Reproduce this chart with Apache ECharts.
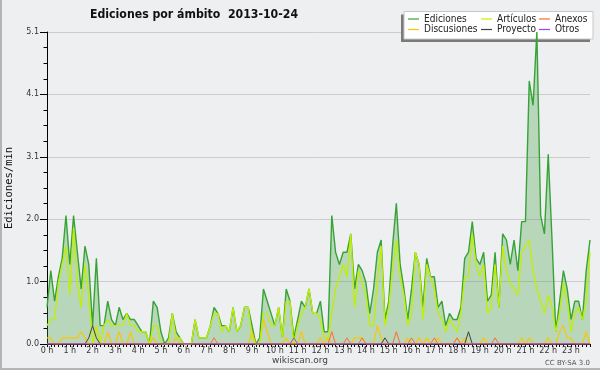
<!DOCTYPE html>
<html><head><meta charset="utf-8">
<script src="https://cdn.jsdelivr.net/npm/echarts@6/dist/echarts.min.js"></script>
<style>html,body{margin:0;padding:0;background:#eeeff1;}#c{width:600px;height:370px;}</style>
</head><body><div id="c"></div>
<script>
const hourLabels = ['0 h','1 h','2 h','3 h','4 h','5 h','6 h','7 h','8 h','9 h','10 h','11 h','12 h','13 h','14 h','15 h','16 h','17 h','18 h','19 h','20 h','21 h','22 h','23 h'];
const yTickLabels = ['0.0','1.0','2.0','3.1','4.1','5.1'];
const ediciones = [
0.6,1.2,0.7,1.1,1.4,2.1,1.3,2.1,1.5,0.9,
1.6,1.3,0.3,1.4,0.3,0.3,0.7,0.4,0.3,0.6,
0.4,0.5,0.4,0.4,0.3,0.2,0.2,0.0,0.7,0.6,
0.2,0.0,0.1,0.5,0.2,0.1,0.0,0.0,0.0,0.4,
0.1,0.1,0.1,0.3,0.6,0.5,0.3,0.3,0.2,0.6,
0.2,0.3,0.6,0.6,0.3,0.0,0.1,0.9,0.7,0.5,
0.3,0.6,0.1,0.9,0.7,0.1,0.4,0.7,0.6,0.9,
0.5,0.5,0.7,0.2,0.2,2.1,1.5,1.3,1.5,1.5,
1.8,0.9,1.3,1.2,1.0,0.5,0.9,1.5,1.7,0.4,
0.7,1.6,2.3,1.3,0.9,0.4,0.9,1.5,1.3,0.6,
1.4,1.1,1.1,0.6,0.7,0.3,0.5,0.4,0.4,0.6,
1.4,1.5,2.0,1.4,1.3,1.5,0.7,0.8,1.5,0.6,
1.8,1.7,1.3,1.7,1.2,2.0,2.0,4.3,3.9,5.1,
2.1,1.8,3.1,1.7,0.2,0.7,1.2,0.9,0.4,0.7,
0.7,0.4,1.2,1.7];
const articulos = [
0.3,0.4,0.4,1.0,1.3,1.6,0.8,1.9,1.0,0.6,
1.3,0.8,0.0,0.3,0.0,0.3,0.4,0.3,0.3,0.3,
0.3,0.5,0.3,0.3,0.2,0.2,0.2,0.0,0.3,0.3,
0.0,0.0,0.0,0.5,0.1,0.1,0.0,0.0,0.0,0.4,
0.1,0.1,0.1,0.3,0.5,0.5,0.2,0.3,0.2,0.6,
0.2,0.3,0.6,0.6,0.1,0.0,0.0,0.5,0.5,0.3,
0.3,0.6,0.1,0.7,0.7,0.0,0.3,0.5,0.6,0.9,
0.5,0.5,0.4,0.1,0.1,0.5,0.9,1.1,1.3,1.1,
1.8,0.6,1.2,1.0,0.8,0.3,0.3,1.0,1.6,0.3,
0.6,1.2,1.7,1.1,0.8,0.3,0.5,1.5,1.3,0.4,
1.3,1.1,0.9,0.5,0.4,0.2,0.4,0.3,0.2,0.5,
1.1,1.1,1.8,1.3,1.1,1.3,0.5,0.6,1.3,0.6,
1.6,1.2,1.0,0.9,0.8,1.5,1.6,1.7,1.2,0.9,
0.7,0.5,0.8,0.6,0.2,0.5,1.0,0.7,0.2,0.5,
0.6,0.4,0.7,1.5];
const discusiones = [
0.1,0.1,0,0,0.1,0.1,0.1,0.1,0.1,0.2,
0.1,0,0,0.3,0,0,0.2,0,0,0.2,
0,0,0.2,0,0,0,0,0,0.1,0,
0,0,0,0,0.1,0,0,0,0,0,
0,0,0,0,0,0,0,0,0,0,
0,0,0,0,0.2,0,0,0.4,0.2,0,
0,0,0,0.1,0,0,0,0.2,0,0,
0,0,0.1,0,0.1,0,0,0,0,0,
0,0.1,0.1,0.1,0,0,0,0.3,0.1,0,
0,0,0,0,0,0.1,0,0,0.1,0,
0.1,0,0,0.1,0,0,0,0,0.1,0,
0.1,0,0,0,0,0.1,0,0,0,0,
0,0,0,0,0,0.1,0,0.1,0,0,
0,0,0.1,0,0,0.2,0.3,0.1,0.1,0,
0,0,0.2,0];
const proyecto = [
0,0,0,0,0,0,0,0,0,0,
0,0.1,0.3,0.1,0,0,0,0,0,0,
0,0,0,0,0,0,0,0,0,0,
0,0,0,0,0,0,0,0,0,0,
0,0,0,0,0,0,0,0,0,0,
0,0,0,0,0,0,0,0,0,0,
0,0,0,0,0,0,0,0,0,0,
0,0,0,0,0,0,0,0,0,0,
0,0,0,0,0,0,0,0,0,0.1,
0,0,0,0,0,0,0,0,0,0,
0,0,0,0,0,0,0,0,0,0,
0,0.2,0,0,0,0,0,0,0,0,
0,0,0,0,0,0,0,0,0,0,
0,0,0,0,0,0,0,0,0,0,
0,0,0,0];
const anexos = [
0,0,0,0,0,0,0,0,0,0,
0,0,0,0,0,0,0,0,0,0,
0,0,0,0,0,0,0,0,0,0,
0,0,0,0,0,0,0,0,0,0,
0,0,0,0,0.1,0,0,0,0,0,
0,0,0,0,0,0,0,0,0,0,
0,0,0,0,0,0,0,0,0,0,
0,0,0,0,0,0.2,0,0,0,0.1,
0,0,0,0.1,0,0,0,0,0,0,
0,0,0.2,0,0,0,0.1,0,0,0,
0,0,0.1,0,0,0,0,0,0.1,0,
0,0,0,0,0,0,0,0,0.1,0,
0,0,0,0,0,0,0,0,0,0,
0,0,0,0,0,0,0,0,0,0,
0,0,0,0];
const otros = [
0,0,0,0,0,0,0,0,0,0,
0,0,0,0,0,0,0,0,0,0,
0,0,0,0,0,0,0,0,0,0,
0,0,0,0,0,0,0,0,0,0,
0,0,0,0,0,0,0,0,0,0,
0,0,0,0,0,0,0,0,0,0,
0,0,0,0,0,0.1,0,0,0,0,
0,0,0,0,0,0,0,0,0,0,
0,0,0,0,0,0,0,0,0,0,
0,0,0,0,0,0,0,0,0,0,
0,0,0,0,0,0,0,0,0,0,
0,0,0,0,0,0,0,0,0,0,
0,0,0,0,0,0,0,0,0,0,
0,0,0,0,0,0,0,0,0,0,
0,0,0,0];

const slots = [];
for (let h = 0; h < 24; h++) for (let m = 0; m < 60; m += 10) slots.push(h + ':' + (m < 10 ? '0' : '') + m);

const FONT = 'DejaVu Sans';
const COND = '"DejaVu Sans Condensed", "DejaVu Sans"';
const chart = echarts.init(document.getElementById('c'), null, {renderer: 'canvas'});
function line(name, data, color, width, extra) {
  return Object.assign({
    name, type: 'line', data, symbol: 'none', showSymbol: false,
    lineStyle: {color, width}, itemStyle: {color}, z: 3, silent: true
  }, extra || {});
}
const legendBase = {
  orient: 'vertical', top: 14, padding: 0, itemWidth: 11, itemHeight: 1.2, itemGap: 0.5, icon: 'rect',
  textStyle: {fontFamily: COND, fontSize: 10, color: '#222', lineHeight: 10}, selectedMode: false, z: 5
};
chart.setOption({
  animation: false,
  backgroundColor: '#eeeff1',
  title: {text: 'Ediciones por ámbito  2013-10-24', left: 85, top: 4,
    textStyle: {fontFamily: COND, fontWeight: 'bold', fontSize: 12.2, color: '#111'}},
  legend: [
    Object.assign({left: 408, data: ['Ediciones', 'Discusiones']}, legendBase),
    Object.assign({left: 481, data: ['Artículos', 'Proyecto']}, legendBase),
    Object.assign({left: 539, data: ['Anexos', 'Otros']}, legendBase)
  ],
  grid: {left: 47, right: 10, top: 32, bottom: 26, containLabel: false, outerBoundsMode: 'none'},
  xAxis: {
    type: 'category', data: slots, boundaryGap: false,
    axisLine: {lineStyle: {color: '#000', width: 1}},
    axisTick: {show: true, interval: 0, length: 3, lineStyle: {color: '#000'}},
    axisLabel: {interval: 5, margin: 3, fontFamily: FONT, fontSize: 8, color: '#333',
      formatter: (v, i) => (i % 6 === 0 ? hourLabels[i / 6] : '')},
    splitLine: {show: false}
  },
  yAxis: {
    type: 'value', min: 0, max: 5.1, interval: 1.02,
    name: 'Ediciones/min', nameLocation: 'middle', nameGap: 32, nameRotate: 90,
    nameTextStyle: {fontFamily: 'DejaVu Sans Mono', fontSize: 10.5, color: '#111'},
    axisLine: {show: true, lineStyle: {color: '#000', width: 1}},
    axisTick: {show: true, length: 7, lineStyle: {color: '#000'}},
    minorTick: {show: true, splitNumber: 4, length: 3.5, lineStyle: {color: '#000'}},
    axisLabel: {margin: 8, fontFamily: FONT, fontSize: 8, color: '#333',
      formatter: (v) => yTickLabels[Math.round(v / 1.02)]},
    splitLine: {show: true, lineStyle: {color: '#cccccc', width: 1}}
  },
  graphic: [
    {type: 'rect', shape: {x: 0, y: 0, width: 2, height: 370}, style: {fill: '#b4b4b4'}, z: 0, silent: true},
    {type: 'rect', shape: {x: 0, y: 368, width: 600, height: 2}, style: {fill: '#b4b4b4'}, z: 0, silent: true},
    {type: 'rect', shape: {x: 401, y: 14.5, width: 189, height: 27.5}, style: {fill: '#7a7a7a'}, z: 1, silent: true},
    {type: 'rect', shape: {x: 404, y: 11.5, width: 189, height: 27.5}, style: {fill: '#ffffff', stroke: '#c8c8c8', lineWidth: 1}, z: 1, silent: true},
    {type: 'text', x: 300, y: 361, style: {text: 'wikiscan.org', fill: '#444', font: '9px "DejaVu Sans"', textAlign: 'center', textVerticalAlign: 'middle'}, z: 5, silent: true},
    {type: 'text', x: 590, y: 363, style: {text: 'CC BY-SA 3.0', fill: '#555', font: '7px "DejaVu Sans"', textAlign: 'right', textVerticalAlign: 'middle'}, z: 5, silent: true}
  ],
  series: [
    line('Ediciones', ediciones, '#37a337', 1.4, {areaStyle: {color: 'rgba(70,160,70,0.45)'}, z: 2}),
    line('Discusiones', discusiones, '#ffc400', 1.1),
    line('Artículos', articulos, '#c0f000', 1.3),
    line('Proyecto', proyecto, '#404040', 1),
    line('Anexos', anexos, '#ff6a30', 1),
    line('Otros', otros, '#9b40ff', 1)
  ]
});
</script></body></html>
